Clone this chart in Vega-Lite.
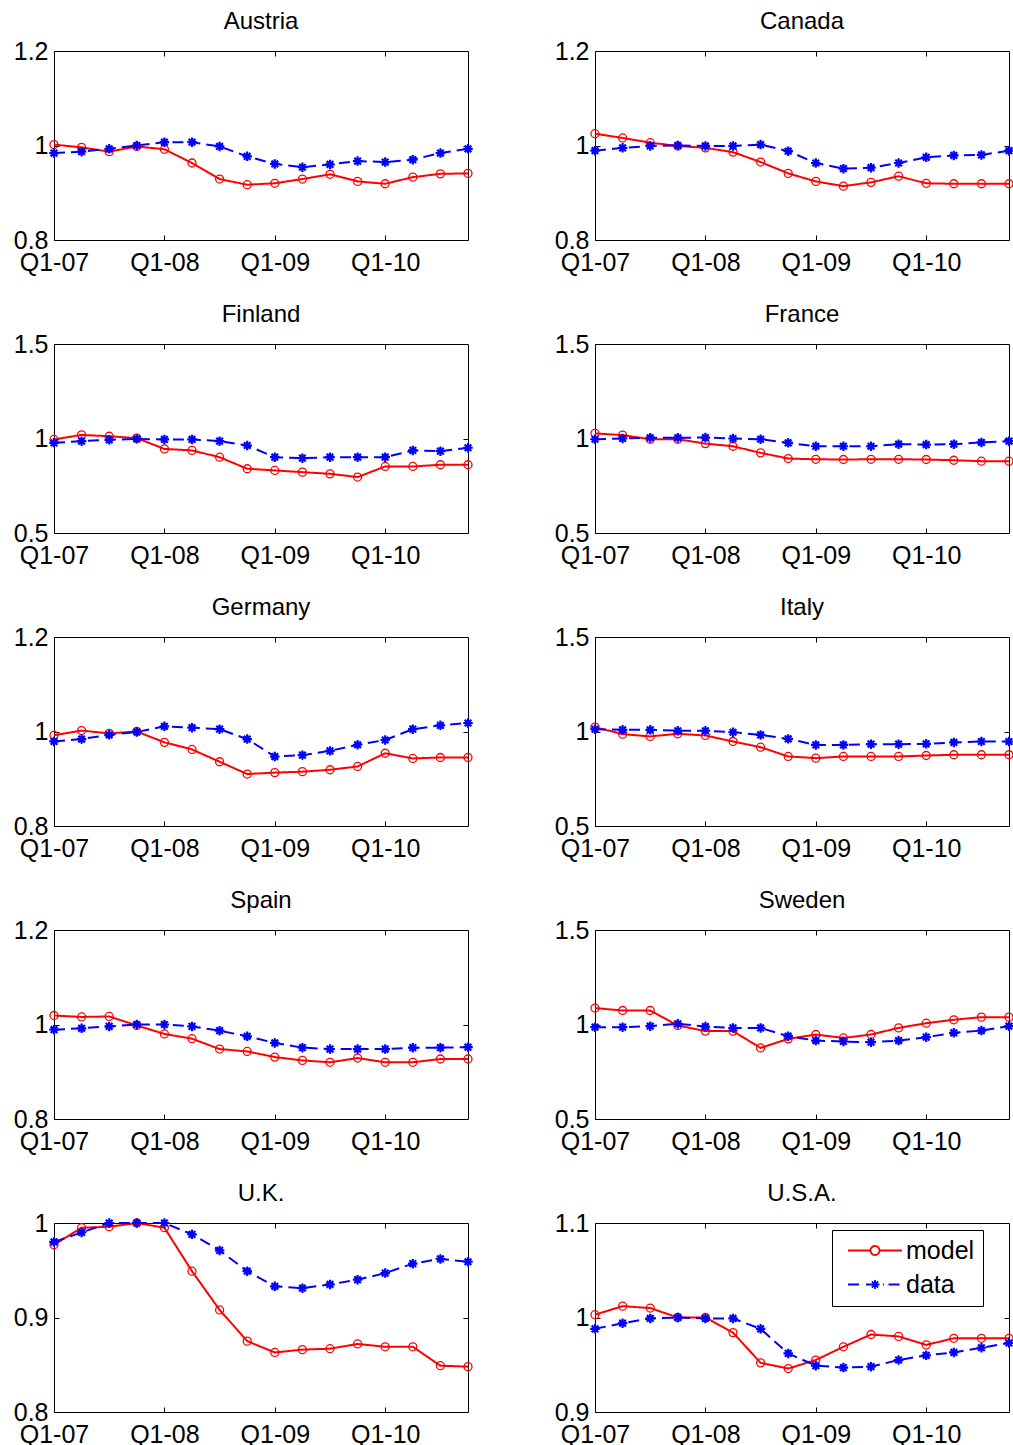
{
"$schema":"https://vega.github.io/schema/vega-lite/v6.json",
"background":"white",
"padding":{"left":12,"top":9,"right":0,"bottom":0},
"datasets":{"d":[
{"c":"Austria","s":"model","q":"Q1-07","v":1.002},{"c":"Austria","s":"model","q":"Q2-07","v":0.996},{"c":"Austria","s":"model","q":"Q3-07","v":0.987},{"c":"Austria","s":"model","q":"Q4-07","v":0.998},{"c":"Austria","s":"model","q":"Q1-08","v":0.992},{"c":"Austria","s":"model","q":"Q2-08","v":0.963},{"c":"Austria","s":"model","q":"Q3-08","v":0.929},{"c":"Austria","s":"model","q":"Q4-08","v":0.917},{"c":"Austria","s":"model","q":"Q1-09","v":0.920},{"c":"Austria","s":"model","q":"Q2-09","v":0.929},{"c":"Austria","s":"model","q":"Q3-09","v":0.939},{"c":"Austria","s":"model","q":"Q4-09","v":0.924},{"c":"Austria","s":"model","q":"Q1-10","v":0.919},{"c":"Austria","s":"model","q":"Q2-10","v":0.933},{"c":"Austria","s":"model","q":"Q3-10","v":0.940},{"c":"Austria","s":"model","q":"Q4-10","v":0.941},
{"c":"Austria","s":"data","q":"Q1-07","v":0.984},{"c":"Austria","s":"data","q":"Q2-07","v":0.987},{"c":"Austria","s":"data","q":"Q3-07","v":0.993},{"c":"Austria","s":"data","q":"Q4-07","v":1.000},{"c":"Austria","s":"data","q":"Q1-08","v":1.007},{"c":"Austria","s":"data","q":"Q2-08","v":1.007},{"c":"Austria","s":"data","q":"Q3-08","v":0.998},{"c":"Austria","s":"data","q":"Q4-08","v":0.977},{"c":"Austria","s":"data","q":"Q1-09","v":0.961},{"c":"Austria","s":"data","q":"Q2-09","v":0.954},{"c":"Austria","s":"data","q":"Q3-09","v":0.960},{"c":"Austria","s":"data","q":"Q4-09","v":0.967},{"c":"Austria","s":"data","q":"Q1-10","v":0.965},{"c":"Austria","s":"data","q":"Q2-10","v":0.970},{"c":"Austria","s":"data","q":"Q3-10","v":0.984},{"c":"Austria","s":"data","q":"Q4-10","v":0.993},
{"c":"Canada","s":"model","q":"Q1-07","v":1.025},{"c":"Canada","s":"model","q":"Q2-07","v":1.016},{"c":"Canada","s":"model","q":"Q3-07","v":1.006},{"c":"Canada","s":"model","q":"Q4-07","v":0.999},{"c":"Canada","s":"model","q":"Q1-08","v":0.995},{"c":"Canada","s":"model","q":"Q2-08","v":0.986},{"c":"Canada","s":"model","q":"Q3-08","v":0.965},{"c":"Canada","s":"model","q":"Q4-08","v":0.941},{"c":"Canada","s":"model","q":"Q1-09","v":0.924},{"c":"Canada","s":"model","q":"Q2-09","v":0.914},{"c":"Canada","s":"model","q":"Q3-09","v":0.922},{"c":"Canada","s":"model","q":"Q4-09","v":0.935},{"c":"Canada","s":"model","q":"Q1-10","v":0.920},{"c":"Canada","s":"model","q":"Q2-10","v":0.919},{"c":"Canada","s":"model","q":"Q3-10","v":0.919},{"c":"Canada","s":"model","q":"Q4-10","v":0.919},
{"c":"Canada","s":"data","q":"Q1-07","v":0.989},{"c":"Canada","s":"data","q":"Q2-07","v":0.995},{"c":"Canada","s":"data","q":"Q3-07","v":0.999},{"c":"Canada","s":"data","q":"Q4-07","v":1.000},{"c":"Canada","s":"data","q":"Q1-08","v":0.999},{"c":"Canada","s":"data","q":"Q2-08","v":0.999},{"c":"Canada","s":"data","q":"Q3-08","v":1.002},{"c":"Canada","s":"data","q":"Q4-08","v":0.988},{"c":"Canada","s":"data","q":"Q1-09","v":0.963},{"c":"Canada","s":"data","q":"Q2-09","v":0.951},{"c":"Canada","s":"data","q":"Q3-09","v":0.953},{"c":"Canada","s":"data","q":"Q4-09","v":0.963},{"c":"Canada","s":"data","q":"Q1-10","v":0.975},{"c":"Canada","s":"data","q":"Q2-10","v":0.979},{"c":"Canada","s":"data","q":"Q3-10","v":0.980},{"c":"Canada","s":"data","q":"Q4-10","v":0.989},
{"c":"Finland","s":"model","q":"Q1-07","v":0.995},{"c":"Finland","s":"model","q":"Q2-07","v":1.019},{"c":"Finland","s":"model","q":"Q3-07","v":1.012},{"c":"Finland","s":"model","q":"Q4-07","v":1.002},{"c":"Finland","s":"model","q":"Q1-08","v":0.945},{"c":"Finland","s":"model","q":"Q2-08","v":0.937},{"c":"Finland","s":"model","q":"Q3-08","v":0.901},{"c":"Finland","s":"model","q":"Q4-08","v":0.840},{"c":"Finland","s":"model","q":"Q1-09","v":0.831},{"c":"Finland","s":"model","q":"Q2-09","v":0.822},{"c":"Finland","s":"model","q":"Q3-09","v":0.813},{"c":"Finland","s":"model","q":"Q4-09","v":0.796},{"c":"Finland","s":"model","q":"Q1-10","v":0.852},{"c":"Finland","s":"model","q":"Q2-10","v":0.852},{"c":"Finland","s":"model","q":"Q3-10","v":0.861},{"c":"Finland","s":"model","q":"Q4-10","v":0.861},
{"c":"Finland","s":"data","q":"Q1-07","v":0.977},{"c":"Finland","s":"data","q":"Q2-07","v":0.986},{"c":"Finland","s":"data","q":"Q3-07","v":0.993},{"c":"Finland","s":"data","q":"Q4-07","v":0.998},{"c":"Finland","s":"data","q":"Q1-08","v":0.995},{"c":"Finland","s":"data","q":"Q2-08","v":0.995},{"c":"Finland","s":"data","q":"Q3-08","v":0.986},{"c":"Finland","s":"data","q":"Q4-08","v":0.963},{"c":"Finland","s":"data","q":"Q1-09","v":0.901},{"c":"Finland","s":"data","q":"Q2-09","v":0.896},{"c":"Finland","s":"data","q":"Q3-09","v":0.901},{"c":"Finland","s":"data","q":"Q4-09","v":0.901},{"c":"Finland","s":"data","q":"Q1-10","v":0.901},{"c":"Finland","s":"data","q":"Q2-10","v":0.937},{"c":"Finland","s":"data","q":"Q3-10","v":0.933},{"c":"Finland","s":"data","q":"Q4-10","v":0.951},
{"c":"France","s":"model","q":"Q1-07","v":1.027},{"c":"France","s":"model","q":"Q2-07","v":1.018},{"c":"France","s":"model","q":"Q3-07","v":0.996},{"c":"France","s":"model","q":"Q4-07","v":0.996},{"c":"France","s":"model","q":"Q1-08","v":0.973},{"c":"France","s":"model","q":"Q2-08","v":0.959},{"c":"France","s":"model","q":"Q3-08","v":0.924},{"c":"France","s":"model","q":"Q4-08","v":0.894},{"c":"France","s":"model","q":"Q1-09","v":0.890},{"c":"France","s":"model","q":"Q2-09","v":0.889},{"c":"France","s":"model","q":"Q3-09","v":0.890},{"c":"France","s":"model","q":"Q4-09","v":0.890},{"c":"France","s":"model","q":"Q1-10","v":0.889},{"c":"France","s":"model","q":"Q2-10","v":0.885},{"c":"France","s":"model","q":"Q3-10","v":0.880},{"c":"France","s":"model","q":"Q4-10","v":0.880},
{"c":"France","s":"data","q":"Q1-07","v":0.996},{"c":"France","s":"data","q":"Q2-07","v":1.000},{"c":"France","s":"data","q":"Q3-07","v":1.004},{"c":"France","s":"data","q":"Q4-07","v":1.004},{"c":"France","s":"data","q":"Q1-08","v":1.005},{"c":"France","s":"data","q":"Q2-08","v":1.000},{"c":"France","s":"data","q":"Q3-08","v":0.996},{"c":"France","s":"data","q":"Q4-08","v":0.977},{"c":"France","s":"data","q":"Q1-09","v":0.959},{"c":"France","s":"data","q":"Q2-09","v":0.959},{"c":"France","s":"data","q":"Q3-09","v":0.959},{"c":"France","s":"data","q":"Q4-09","v":0.970},{"c":"France","s":"data","q":"Q1-10","v":0.968},{"c":"France","s":"data","q":"Q2-10","v":0.970},{"c":"France","s":"data","q":"Q3-10","v":0.979},{"c":"France","s":"data","q":"Q4-10","v":0.986},
{"c":"Germany","s":"model","q":"Q1-07","v":0.992},{"c":"Germany","s":"model","q":"Q2-07","v":1.002},{"c":"Germany","s":"model","q":"Q3-07","v":0.996},{"c":"Germany","s":"model","q":"Q4-07","v":1.000},{"c":"Germany","s":"model","q":"Q1-08","v":0.977},{"c":"Germany","s":"model","q":"Q2-08","v":0.962},{"c":"Germany","s":"model","q":"Q3-08","v":0.936},{"c":"Germany","s":"model","q":"Q4-08","v":0.910},{"c":"Germany","s":"model","q":"Q1-09","v":0.913},{"c":"Germany","s":"model","q":"Q2-09","v":0.915},{"c":"Germany","s":"model","q":"Q3-09","v":0.919},{"c":"Germany","s":"model","q":"Q4-09","v":0.926},{"c":"Germany","s":"model","q":"Q1-10","v":0.954},{"c":"Germany","s":"model","q":"Q2-10","v":0.943},{"c":"Germany","s":"model","q":"Q3-10","v":0.945},{"c":"Germany","s":"model","q":"Q4-10","v":0.945},
{"c":"Germany","s":"data","q":"Q1-07","v":0.979},{"c":"Germany","s":"data","q":"Q2-07","v":0.984},{"c":"Germany","s":"data","q":"Q3-07","v":0.993},{"c":"Germany","s":"data","q":"Q4-07","v":0.999},{"c":"Germany","s":"data","q":"Q1-08","v":1.011},{"c":"Germany","s":"data","q":"Q2-08","v":1.008},{"c":"Germany","s":"data","q":"Q3-08","v":1.005},{"c":"Germany","s":"data","q":"Q4-08","v":0.984},{"c":"Germany","s":"data","q":"Q1-09","v":0.947},{"c":"Germany","s":"data","q":"Q2-09","v":0.950},{"c":"Germany","s":"data","q":"Q3-09","v":0.959},{"c":"Germany","s":"data","q":"Q4-09","v":0.972},{"c":"Germany","s":"data","q":"Q1-10","v":0.982},{"c":"Germany","s":"data","q":"Q2-10","v":1.005},{"c":"Germany","s":"data","q":"Q3-10","v":1.013},{"c":"Germany","s":"data","q":"Q4-10","v":1.018},
{"c":"Italy","s":"model","q":"Q1-07","v":1.023},{"c":"Italy","s":"model","q":"Q2-07","v":0.986},{"c":"Italy","s":"model","q":"Q3-07","v":0.974},{"c":"Italy","s":"model","q":"Q4-07","v":0.988},{"c":"Italy","s":"model","q":"Q1-08","v":0.979},{"c":"Italy","s":"model","q":"Q2-08","v":0.947},{"c":"Italy","s":"model","q":"Q3-08","v":0.917},{"c":"Italy","s":"model","q":"Q4-08","v":0.868},{"c":"Italy","s":"model","q":"Q1-09","v":0.859},{"c":"Italy","s":"model","q":"Q2-09","v":0.868},{"c":"Italy","s":"model","q":"Q3-09","v":0.868},{"c":"Italy","s":"model","q":"Q4-09","v":0.868},{"c":"Italy","s":"model","q":"Q1-10","v":0.873},{"c":"Italy","s":"model","q":"Q2-10","v":0.877},{"c":"Italy","s":"model","q":"Q3-10","v":0.877},{"c":"Italy","s":"model","q":"Q4-10","v":0.877},
{"c":"Italy","s":"data","q":"Q1-07","v":1.012},{"c":"Italy","s":"data","q":"Q2-07","v":1.009},{"c":"Italy","s":"data","q":"Q3-07","v":1.009},{"c":"Italy","s":"data","q":"Q4-07","v":1.004},{"c":"Italy","s":"data","q":"Q1-08","v":1.004},{"c":"Italy","s":"data","q":"Q2-08","v":0.996},{"c":"Italy","s":"data","q":"Q3-08","v":0.982},{"c":"Italy","s":"data","q":"Q4-08","v":0.961},{"c":"Italy","s":"data","q":"Q1-09","v":0.929},{"c":"Italy","s":"data","q":"Q2-09","v":0.929},{"c":"Italy","s":"data","q":"Q3-09","v":0.933},{"c":"Italy","s":"data","q":"Q4-09","v":0.933},{"c":"Italy","s":"data","q":"Q1-10","v":0.935},{"c":"Italy","s":"data","q":"Q2-10","v":0.942},{"c":"Italy","s":"data","q":"Q3-10","v":0.947},{"c":"Italy","s":"data","q":"Q4-10","v":0.947},
{"c":"Spain","s":"model","q":"Q1-07","v":1.019},{"c":"Spain","s":"model","q":"Q2-07","v":1.016},{"c":"Spain","s":"model","q":"Q3-07","v":1.017},{"c":"Spain","s":"model","q":"Q4-07","v":0.998},{"c":"Spain","s":"model","q":"Q1-08","v":0.980},{"c":"Spain","s":"model","q":"Q2-08","v":0.970},{"c":"Spain","s":"model","q":"Q3-08","v":0.948},{"c":"Spain","s":"model","q":"Q4-08","v":0.943},{"c":"Spain","s":"model","q":"Q1-09","v":0.931},{"c":"Spain","s":"model","q":"Q2-09","v":0.924},{"c":"Spain","s":"model","q":"Q3-09","v":0.920},{"c":"Spain","s":"model","q":"Q4-09","v":0.929},{"c":"Spain","s":"model","q":"Q1-10","v":0.920},{"c":"Spain","s":"model","q":"Q2-10","v":0.920},{"c":"Spain","s":"model","q":"Q3-10","v":0.927},{"c":"Spain","s":"model","q":"Q4-10","v":0.927},
{"c":"Spain","s":"data","q":"Q1-07","v":0.989},{"c":"Spain","s":"data","q":"Q2-07","v":0.992},{"c":"Spain","s":"data","q":"Q3-07","v":0.996},{"c":"Spain","s":"data","q":"Q4-07","v":1.000},{"c":"Spain","s":"data","q":"Q1-08","v":1.000},{"c":"Spain","s":"data","q":"Q2-08","v":0.996},{"c":"Spain","s":"data","q":"Q3-08","v":0.987},{"c":"Spain","s":"data","q":"Q4-08","v":0.975},{"c":"Spain","s":"data","q":"Q1-09","v":0.961},{"c":"Spain","s":"data","q":"Q2-09","v":0.951},{"c":"Spain","s":"data","q":"Q3-09","v":0.948},{"c":"Spain","s":"data","q":"Q4-09","v":0.948},{"c":"Spain","s":"data","q":"Q1-10","v":0.948},{"c":"Spain","s":"data","q":"Q2-10","v":0.951},{"c":"Spain","s":"data","q":"Q3-10","v":0.951},{"c":"Spain","s":"data","q":"Q4-10","v":0.952},
{"c":"Sweden","s":"model","q":"Q1-07","v":1.087},{"c":"Sweden","s":"model","q":"Q2-07","v":1.074},{"c":"Sweden","s":"model","q":"Q3-07","v":1.074},{"c":"Sweden","s":"model","q":"Q4-07","v":0.995},{"c":"Sweden","s":"model","q":"Q1-08","v":0.965},{"c":"Sweden","s":"model","q":"Q2-08","v":0.965},{"c":"Sweden","s":"model","q":"Q3-08","v":0.876},{"c":"Sweden","s":"model","q":"Q4-08","v":0.924},{"c":"Sweden","s":"model","q":"Q1-09","v":0.947},{"c":"Sweden","s":"model","q":"Q2-09","v":0.929},{"c":"Sweden","s":"model","q":"Q3-09","v":0.947},{"c":"Sweden","s":"model","q":"Q4-09","v":0.982},{"c":"Sweden","s":"model","q":"Q1-10","v":1.007},{"c":"Sweden","s":"model","q":"Q2-10","v":1.025},{"c":"Sweden","s":"model","q":"Q3-10","v":1.039},{"c":"Sweden","s":"model","q":"Q4-10","v":1.039},
{"c":"Sweden","s":"data","q":"Q1-07","v":0.986},{"c":"Sweden","s":"data","q":"Q2-07","v":0.986},{"c":"Sweden","s":"data","q":"Q3-07","v":0.991},{"c":"Sweden","s":"data","q":"Q4-07","v":1.004},{"c":"Sweden","s":"data","q":"Q1-08","v":0.989},{"c":"Sweden","s":"data","q":"Q2-08","v":0.982},{"c":"Sweden","s":"data","q":"Q3-08","v":0.982},{"c":"Sweden","s":"data","q":"Q4-08","v":0.938},{"c":"Sweden","s":"data","q":"Q1-09","v":0.915},{"c":"Sweden","s":"data","q":"Q2-09","v":0.910},{"c":"Sweden","s":"data","q":"Q3-09","v":0.906},{"c":"Sweden","s":"data","q":"Q4-09","v":0.915},{"c":"Sweden","s":"data","q":"Q1-10","v":0.933},{"c":"Sweden","s":"data","q":"Q2-10","v":0.956},{"c":"Sweden","s":"data","q":"Q3-10","v":0.968},{"c":"Sweden","s":"data","q":"Q4-10","v":0.991},
{"c":"U.K.","s":"model","q":"Q1-07","v":0.977},{"c":"U.K.","s":"model","q":"Q2-07","v":0.995},{"c":"U.K.","s":"model","q":"Q3-07","v":0.996},{"c":"U.K.","s":"model","q":"Q4-07","v":1.000},{"c":"U.K.","s":"model","q":"Q1-08","v":0.995},{"c":"U.K.","s":"model","q":"Q2-08","v":0.949},{"c":"U.K.","s":"model","q":"Q3-08","v":0.908},{"c":"U.K.","s":"model","q":"Q4-08","v":0.875},{"c":"U.K.","s":"model","q":"Q1-09","v":0.863},{"c":"U.K.","s":"model","q":"Q2-09","v":0.866},{"c":"U.K.","s":"model","q":"Q3-09","v":0.867},{"c":"U.K.","s":"model","q":"Q4-09","v":0.872},{"c":"U.K.","s":"model","q":"Q1-10","v":0.869},{"c":"U.K.","s":"model","q":"Q2-10","v":0.869},{"c":"U.K.","s":"model","q":"Q3-10","v":0.849},{"c":"U.K.","s":"model","q":"Q4-10","v":0.848},
{"c":"U.K.","s":"data","q":"Q1-07","v":0.980},{"c":"U.K.","s":"data","q":"Q2-07","v":0.990},{"c":"U.K.","s":"data","q":"Q3-07","v":1.000},{"c":"U.K.","s":"data","q":"Q4-07","v":1.000},{"c":"U.K.","s":"data","q":"Q1-08","v":1.000},{"c":"U.K.","s":"data","q":"Q2-08","v":0.988},{"c":"U.K.","s":"data","q":"Q3-08","v":0.971},{"c":"U.K.","s":"data","q":"Q4-08","v":0.949},{"c":"U.K.","s":"data","q":"Q1-09","v":0.933},{"c":"U.K.","s":"data","q":"Q2-09","v":0.931},{"c":"U.K.","s":"data","q":"Q3-09","v":0.935},{"c":"U.K.","s":"data","q":"Q4-09","v":0.940},{"c":"U.K.","s":"data","q":"Q1-10","v":0.947},{"c":"U.K.","s":"data","q":"Q2-10","v":0.957},{"c":"U.K.","s":"data","q":"Q3-10","v":0.962},{"c":"U.K.","s":"data","q":"Q4-10","v":0.959},
{"c":"U.S.A.","s":"model","q":"Q1-07","v":1.003},{"c":"U.S.A.","s":"model","q":"Q2-07","v":1.012},{"c":"U.S.A.","s":"model","q":"Q3-07","v":1.010},{"c":"U.S.A.","s":"model","q":"Q4-07","v":1.000},{"c":"U.S.A.","s":"model","q":"Q1-08","v":1.000},{"c":"U.S.A.","s":"model","q":"Q2-08","v":0.984},{"c":"U.S.A.","s":"model","q":"Q3-08","v":0.952},{"c":"U.S.A.","s":"model","q":"Q4-08","v":0.946},{"c":"U.S.A.","s":"model","q":"Q1-09","v":0.955},{"c":"U.S.A.","s":"model","q":"Q2-09","v":0.969},{"c":"U.S.A.","s":"model","q":"Q3-09","v":0.982},{"c":"U.S.A.","s":"model","q":"Q4-09","v":0.980},{"c":"U.S.A.","s":"model","q":"Q1-10","v":0.971},{"c":"U.S.A.","s":"model","q":"Q2-10","v":0.978},{"c":"U.S.A.","s":"model","q":"Q3-10","v":0.978},{"c":"U.S.A.","s":"model","q":"Q4-10","v":0.978},
{"c":"U.S.A.","s":"data","q":"Q1-07","v":0.988},{"c":"U.S.A.","s":"data","q":"Q2-07","v":0.994},{"c":"U.S.A.","s":"data","q":"Q3-07","v":0.999},{"c":"U.S.A.","s":"data","q":"Q4-07","v":1.000},{"c":"U.S.A.","s":"data","q":"Q1-08","v":0.999},{"c":"U.S.A.","s":"data","q":"Q2-08","v":0.999},{"c":"U.S.A.","s":"data","q":"Q3-08","v":0.988},{"c":"U.S.A.","s":"data","q":"Q4-08","v":0.962},{"c":"U.S.A.","s":"data","q":"Q1-09","v":0.949},{"c":"U.S.A.","s":"data","q":"Q2-09","v":0.947},{"c":"U.S.A.","s":"data","q":"Q3-09","v":0.948},{"c":"U.S.A.","s":"data","q":"Q4-09","v":0.955},{"c":"U.S.A.","s":"data","q":"Q1-10","v":0.960},{"c":"U.S.A.","s":"data","q":"Q2-10","v":0.963},{"c":"U.S.A.","s":"data","q":"Q3-10","v":0.968},{"c":"U.S.A.","s":"data","q":"Q4-10","v":0.973}
]},
"columns":2,
"spacing":{"row":26,"column":75},
"resolve":{"scale":{"color":"independent","strokeDash":"independent"},"legend":{"color":"independent","strokeDash":"independent"}},
"concat":[
{"title":"Austria","width":414,"height":189,"data":{"name":"d"},"transform":[{"filter":"datum.c==='Austria'"}],"resolve":{"axis":{"x":"independent","y":"independent"}},
"layer":[{"encoding":{"x":{"field":"q","type":"ordinal","title":null,"scale":{"type":"point","padding":0,"domain":["Q1-07","Q2-07","Q3-07","Q4-07","Q1-08","Q2-08","Q3-08","Q4-08","Q1-09","Q2-09","Q3-09","Q4-09","Q1-10","Q2-10","Q3-10","Q4-10"]},"axis":{"values":["Q1-07","Q1-08","Q1-09","Q1-10"],"labelAngle":0}},
"y":{"field":"v","type":"quantitative","title":null,"scale":{"domain":[0.8,1.2],"zero":false,"nice":false},"axis":{"values":[0.8,1,1.2],"format":"~g"}},
"color":{"field":"s","type":"nominal","scale":{"domain":["model","data"],"range":["#ff0000","#0000ff"]},"legend":null}},
"layer":[
{"mark":{"type":"line","strokeWidth":2},"encoding":{"order":{"value":null},"strokeDash":{"field":"s","type":"nominal","scale":{"domain":["model","data"],"range":[[1,0],[11,6]]},"legend":null}}},
{"transform":[{"filter":"datum.s==='model'"}],"mark":{"type":"point","shape":"circle","filled":false,"size":64,"strokeWidth":1.3,"opacity":1}},
{"transform":[{"filter":"datum.s==='data'"}],"mark":{"type":"point","shape":"M-1,0L1,0M0,-1L0,1M-0.7,-0.7L0.7,0.7M-0.7,0.7L0.7,-0.7","filled":false,"size":90,"strokeWidth":2.2,"opacity":1}}]},
{"mark":{"type":"point","opacity":0},"encoding":{"x":{"field":"q","type":"ordinal","title":null,"scale":{"type":"point","padding":0,"domain":["Q1-07","Q2-07","Q3-07","Q4-07","Q1-08","Q2-08","Q3-08","Q4-08","Q1-09","Q2-09","Q3-09","Q4-09","Q1-10","Q2-10","Q3-10","Q4-10"]},"axis":{"orient":"top","values":["Q1-08","Q1-09","Q1-10"],"labels":false}},
"y":{"field":"v","type":"quantitative","title":null,"scale":{"domain":[0.8,1.2],"zero":false,"nice":false},"axis":{"orient":"right","values":[1],"labels":false}}}}]},
{"title":"Canada","width":414,"height":189,"data":{"name":"d"},"transform":[{"filter":"datum.c==='Canada'"}],"resolve":{"axis":{"x":"independent","y":"independent"}},
"layer":[{"encoding":{"x":{"field":"q","type":"ordinal","title":null,"scale":{"type":"point","padding":0,"domain":["Q1-07","Q2-07","Q3-07","Q4-07","Q1-08","Q2-08","Q3-08","Q4-08","Q1-09","Q2-09","Q3-09","Q4-09","Q1-10","Q2-10","Q3-10","Q4-10"]},"axis":{"values":["Q1-07","Q1-08","Q1-09","Q1-10"],"labelAngle":0}},
"y":{"field":"v","type":"quantitative","title":null,"scale":{"domain":[0.8,1.2],"zero":false,"nice":false},"axis":{"values":[0.8,1,1.2],"format":"~g"}},
"color":{"field":"s","type":"nominal","scale":{"domain":["model","data"],"range":["#ff0000","#0000ff"]},"legend":null}},
"layer":[
{"mark":{"type":"line","strokeWidth":2},"encoding":{"order":{"value":null},"strokeDash":{"field":"s","type":"nominal","scale":{"domain":["model","data"],"range":[[1,0],[11,6]]},"legend":null}}},
{"transform":[{"filter":"datum.s==='model'"}],"mark":{"type":"point","shape":"circle","filled":false,"size":64,"strokeWidth":1.3,"opacity":1}},
{"transform":[{"filter":"datum.s==='data'"}],"mark":{"type":"point","shape":"M-1,0L1,0M0,-1L0,1M-0.7,-0.7L0.7,0.7M-0.7,0.7L0.7,-0.7","filled":false,"size":90,"strokeWidth":2.2,"opacity":1}}]},
{"mark":{"type":"point","opacity":0},"encoding":{"x":{"field":"q","type":"ordinal","title":null,"scale":{"type":"point","padding":0,"domain":["Q1-07","Q2-07","Q3-07","Q4-07","Q1-08","Q2-08","Q3-08","Q4-08","Q1-09","Q2-09","Q3-09","Q4-09","Q1-10","Q2-10","Q3-10","Q4-10"]},"axis":{"orient":"top","values":["Q1-08","Q1-09","Q1-10"],"labels":false}},
"y":{"field":"v","type":"quantitative","title":null,"scale":{"domain":[0.8,1.2],"zero":false,"nice":false},"axis":{"orient":"right","values":[1],"labels":false}}}}]},
{"title":"Finland","width":414,"height":189,"data":{"name":"d"},"transform":[{"filter":"datum.c==='Finland'"}],"resolve":{"axis":{"x":"independent","y":"independent"}},
"layer":[{"encoding":{"x":{"field":"q","type":"ordinal","title":null,"scale":{"type":"point","padding":0,"domain":["Q1-07","Q2-07","Q3-07","Q4-07","Q1-08","Q2-08","Q3-08","Q4-08","Q1-09","Q2-09","Q3-09","Q4-09","Q1-10","Q2-10","Q3-10","Q4-10"]},"axis":{"values":["Q1-07","Q1-08","Q1-09","Q1-10"],"labelAngle":0}},
"y":{"field":"v","type":"quantitative","title":null,"scale":{"domain":[0.5,1.5],"zero":false,"nice":false},"axis":{"values":[0.5,1,1.5],"format":"~g"}},
"color":{"field":"s","type":"nominal","scale":{"domain":["model","data"],"range":["#ff0000","#0000ff"]},"legend":null}},
"layer":[
{"mark":{"type":"line","strokeWidth":2},"encoding":{"order":{"value":null},"strokeDash":{"field":"s","type":"nominal","scale":{"domain":["model","data"],"range":[[1,0],[11,6]]},"legend":null}}},
{"transform":[{"filter":"datum.s==='model'"}],"mark":{"type":"point","shape":"circle","filled":false,"size":64,"strokeWidth":1.3,"opacity":1}},
{"transform":[{"filter":"datum.s==='data'"}],"mark":{"type":"point","shape":"M-1,0L1,0M0,-1L0,1M-0.7,-0.7L0.7,0.7M-0.7,0.7L0.7,-0.7","filled":false,"size":90,"strokeWidth":2.2,"opacity":1}}]},
{"mark":{"type":"point","opacity":0},"encoding":{"x":{"field":"q","type":"ordinal","title":null,"scale":{"type":"point","padding":0,"domain":["Q1-07","Q2-07","Q3-07","Q4-07","Q1-08","Q2-08","Q3-08","Q4-08","Q1-09","Q2-09","Q3-09","Q4-09","Q1-10","Q2-10","Q3-10","Q4-10"]},"axis":{"orient":"top","values":["Q1-08","Q1-09","Q1-10"],"labels":false}},
"y":{"field":"v","type":"quantitative","title":null,"scale":{"domain":[0.5,1.5],"zero":false,"nice":false},"axis":{"orient":"right","values":[1],"labels":false}}}}]},
{"title":"France","width":414,"height":189,"data":{"name":"d"},"transform":[{"filter":"datum.c==='France'"}],"resolve":{"axis":{"x":"independent","y":"independent"}},
"layer":[{"encoding":{"x":{"field":"q","type":"ordinal","title":null,"scale":{"type":"point","padding":0,"domain":["Q1-07","Q2-07","Q3-07","Q4-07","Q1-08","Q2-08","Q3-08","Q4-08","Q1-09","Q2-09","Q3-09","Q4-09","Q1-10","Q2-10","Q3-10","Q4-10"]},"axis":{"values":["Q1-07","Q1-08","Q1-09","Q1-10"],"labelAngle":0}},
"y":{"field":"v","type":"quantitative","title":null,"scale":{"domain":[0.5,1.5],"zero":false,"nice":false},"axis":{"values":[0.5,1,1.5],"format":"~g"}},
"color":{"field":"s","type":"nominal","scale":{"domain":["model","data"],"range":["#ff0000","#0000ff"]},"legend":null}},
"layer":[
{"mark":{"type":"line","strokeWidth":2},"encoding":{"order":{"value":null},"strokeDash":{"field":"s","type":"nominal","scale":{"domain":["model","data"],"range":[[1,0],[11,6]]},"legend":null}}},
{"transform":[{"filter":"datum.s==='model'"}],"mark":{"type":"point","shape":"circle","filled":false,"size":64,"strokeWidth":1.3,"opacity":1}},
{"transform":[{"filter":"datum.s==='data'"}],"mark":{"type":"point","shape":"M-1,0L1,0M0,-1L0,1M-0.7,-0.7L0.7,0.7M-0.7,0.7L0.7,-0.7","filled":false,"size":90,"strokeWidth":2.2,"opacity":1}}]},
{"mark":{"type":"point","opacity":0},"encoding":{"x":{"field":"q","type":"ordinal","title":null,"scale":{"type":"point","padding":0,"domain":["Q1-07","Q2-07","Q3-07","Q4-07","Q1-08","Q2-08","Q3-08","Q4-08","Q1-09","Q2-09","Q3-09","Q4-09","Q1-10","Q2-10","Q3-10","Q4-10"]},"axis":{"orient":"top","values":["Q1-08","Q1-09","Q1-10"],"labels":false}},
"y":{"field":"v","type":"quantitative","title":null,"scale":{"domain":[0.5,1.5],"zero":false,"nice":false},"axis":{"orient":"right","values":[1],"labels":false}}}}]},
{"title":"Germany","width":414,"height":189,"data":{"name":"d"},"transform":[{"filter":"datum.c==='Germany'"}],"resolve":{"axis":{"x":"independent","y":"independent"}},
"layer":[{"encoding":{"x":{"field":"q","type":"ordinal","title":null,"scale":{"type":"point","padding":0,"domain":["Q1-07","Q2-07","Q3-07","Q4-07","Q1-08","Q2-08","Q3-08","Q4-08","Q1-09","Q2-09","Q3-09","Q4-09","Q1-10","Q2-10","Q3-10","Q4-10"]},"axis":{"values":["Q1-07","Q1-08","Q1-09","Q1-10"],"labelAngle":0}},
"y":{"field":"v","type":"quantitative","title":null,"scale":{"domain":[0.8,1.2],"zero":false,"nice":false},"axis":{"values":[0.8,1,1.2],"format":"~g"}},
"color":{"field":"s","type":"nominal","scale":{"domain":["model","data"],"range":["#ff0000","#0000ff"]},"legend":null}},
"layer":[
{"mark":{"type":"line","strokeWidth":2},"encoding":{"order":{"value":null},"strokeDash":{"field":"s","type":"nominal","scale":{"domain":["model","data"],"range":[[1,0],[11,6]]},"legend":null}}},
{"transform":[{"filter":"datum.s==='model'"}],"mark":{"type":"point","shape":"circle","filled":false,"size":64,"strokeWidth":1.3,"opacity":1}},
{"transform":[{"filter":"datum.s==='data'"}],"mark":{"type":"point","shape":"M-1,0L1,0M0,-1L0,1M-0.7,-0.7L0.7,0.7M-0.7,0.7L0.7,-0.7","filled":false,"size":90,"strokeWidth":2.2,"opacity":1}}]},
{"mark":{"type":"point","opacity":0},"encoding":{"x":{"field":"q","type":"ordinal","title":null,"scale":{"type":"point","padding":0,"domain":["Q1-07","Q2-07","Q3-07","Q4-07","Q1-08","Q2-08","Q3-08","Q4-08","Q1-09","Q2-09","Q3-09","Q4-09","Q1-10","Q2-10","Q3-10","Q4-10"]},"axis":{"orient":"top","values":["Q1-08","Q1-09","Q1-10"],"labels":false}},
"y":{"field":"v","type":"quantitative","title":null,"scale":{"domain":[0.8,1.2],"zero":false,"nice":false},"axis":{"orient":"right","values":[1],"labels":false}}}}]},
{"title":"Italy","width":414,"height":189,"data":{"name":"d"},"transform":[{"filter":"datum.c==='Italy'"}],"resolve":{"axis":{"x":"independent","y":"independent"}},
"layer":[{"encoding":{"x":{"field":"q","type":"ordinal","title":null,"scale":{"type":"point","padding":0,"domain":["Q1-07","Q2-07","Q3-07","Q4-07","Q1-08","Q2-08","Q3-08","Q4-08","Q1-09","Q2-09","Q3-09","Q4-09","Q1-10","Q2-10","Q3-10","Q4-10"]},"axis":{"values":["Q1-07","Q1-08","Q1-09","Q1-10"],"labelAngle":0}},
"y":{"field":"v","type":"quantitative","title":null,"scale":{"domain":[0.5,1.5],"zero":false,"nice":false},"axis":{"values":[0.5,1,1.5],"format":"~g"}},
"color":{"field":"s","type":"nominal","scale":{"domain":["model","data"],"range":["#ff0000","#0000ff"]},"legend":null}},
"layer":[
{"mark":{"type":"line","strokeWidth":2},"encoding":{"order":{"value":null},"strokeDash":{"field":"s","type":"nominal","scale":{"domain":["model","data"],"range":[[1,0],[11,6]]},"legend":null}}},
{"transform":[{"filter":"datum.s==='model'"}],"mark":{"type":"point","shape":"circle","filled":false,"size":64,"strokeWidth":1.3,"opacity":1}},
{"transform":[{"filter":"datum.s==='data'"}],"mark":{"type":"point","shape":"M-1,0L1,0M0,-1L0,1M-0.7,-0.7L0.7,0.7M-0.7,0.7L0.7,-0.7","filled":false,"size":90,"strokeWidth":2.2,"opacity":1}}]},
{"mark":{"type":"point","opacity":0},"encoding":{"x":{"field":"q","type":"ordinal","title":null,"scale":{"type":"point","padding":0,"domain":["Q1-07","Q2-07","Q3-07","Q4-07","Q1-08","Q2-08","Q3-08","Q4-08","Q1-09","Q2-09","Q3-09","Q4-09","Q1-10","Q2-10","Q3-10","Q4-10"]},"axis":{"orient":"top","values":["Q1-08","Q1-09","Q1-10"],"labels":false}},
"y":{"field":"v","type":"quantitative","title":null,"scale":{"domain":[0.5,1.5],"zero":false,"nice":false},"axis":{"orient":"right","values":[1],"labels":false}}}}]},
{"title":"Spain","width":414,"height":189,"data":{"name":"d"},"transform":[{"filter":"datum.c==='Spain'"}],"resolve":{"axis":{"x":"independent","y":"independent"}},
"layer":[{"encoding":{"x":{"field":"q","type":"ordinal","title":null,"scale":{"type":"point","padding":0,"domain":["Q1-07","Q2-07","Q3-07","Q4-07","Q1-08","Q2-08","Q3-08","Q4-08","Q1-09","Q2-09","Q3-09","Q4-09","Q1-10","Q2-10","Q3-10","Q4-10"]},"axis":{"values":["Q1-07","Q1-08","Q1-09","Q1-10"],"labelAngle":0}},
"y":{"field":"v","type":"quantitative","title":null,"scale":{"domain":[0.8,1.2],"zero":false,"nice":false},"axis":{"values":[0.8,1,1.2],"format":"~g"}},
"color":{"field":"s","type":"nominal","scale":{"domain":["model","data"],"range":["#ff0000","#0000ff"]},"legend":null}},
"layer":[
{"mark":{"type":"line","strokeWidth":2},"encoding":{"order":{"value":null},"strokeDash":{"field":"s","type":"nominal","scale":{"domain":["model","data"],"range":[[1,0],[11,6]]},"legend":null}}},
{"transform":[{"filter":"datum.s==='model'"}],"mark":{"type":"point","shape":"circle","filled":false,"size":64,"strokeWidth":1.3,"opacity":1}},
{"transform":[{"filter":"datum.s==='data'"}],"mark":{"type":"point","shape":"M-1,0L1,0M0,-1L0,1M-0.7,-0.7L0.7,0.7M-0.7,0.7L0.7,-0.7","filled":false,"size":90,"strokeWidth":2.2,"opacity":1}}]},
{"mark":{"type":"point","opacity":0},"encoding":{"x":{"field":"q","type":"ordinal","title":null,"scale":{"type":"point","padding":0,"domain":["Q1-07","Q2-07","Q3-07","Q4-07","Q1-08","Q2-08","Q3-08","Q4-08","Q1-09","Q2-09","Q3-09","Q4-09","Q1-10","Q2-10","Q3-10","Q4-10"]},"axis":{"orient":"top","values":["Q1-08","Q1-09","Q1-10"],"labels":false}},
"y":{"field":"v","type":"quantitative","title":null,"scale":{"domain":[0.8,1.2],"zero":false,"nice":false},"axis":{"orient":"right","values":[1],"labels":false}}}}]},
{"title":"Sweden","width":414,"height":189,"data":{"name":"d"},"transform":[{"filter":"datum.c==='Sweden'"}],"resolve":{"axis":{"x":"independent","y":"independent"}},
"layer":[{"encoding":{"x":{"field":"q","type":"ordinal","title":null,"scale":{"type":"point","padding":0,"domain":["Q1-07","Q2-07","Q3-07","Q4-07","Q1-08","Q2-08","Q3-08","Q4-08","Q1-09","Q2-09","Q3-09","Q4-09","Q1-10","Q2-10","Q3-10","Q4-10"]},"axis":{"values":["Q1-07","Q1-08","Q1-09","Q1-10"],"labelAngle":0}},
"y":{"field":"v","type":"quantitative","title":null,"scale":{"domain":[0.5,1.5],"zero":false,"nice":false},"axis":{"values":[0.5,1,1.5],"format":"~g"}},
"color":{"field":"s","type":"nominal","scale":{"domain":["model","data"],"range":["#ff0000","#0000ff"]},"legend":null}},
"layer":[
{"mark":{"type":"line","strokeWidth":2},"encoding":{"order":{"value":null},"strokeDash":{"field":"s","type":"nominal","scale":{"domain":["model","data"],"range":[[1,0],[11,6]]},"legend":null}}},
{"transform":[{"filter":"datum.s==='model'"}],"mark":{"type":"point","shape":"circle","filled":false,"size":64,"strokeWidth":1.3,"opacity":1}},
{"transform":[{"filter":"datum.s==='data'"}],"mark":{"type":"point","shape":"M-1,0L1,0M0,-1L0,1M-0.7,-0.7L0.7,0.7M-0.7,0.7L0.7,-0.7","filled":false,"size":90,"strokeWidth":2.2,"opacity":1}}]},
{"mark":{"type":"point","opacity":0},"encoding":{"x":{"field":"q","type":"ordinal","title":null,"scale":{"type":"point","padding":0,"domain":["Q1-07","Q2-07","Q3-07","Q4-07","Q1-08","Q2-08","Q3-08","Q4-08","Q1-09","Q2-09","Q3-09","Q4-09","Q1-10","Q2-10","Q3-10","Q4-10"]},"axis":{"orient":"top","values":["Q1-08","Q1-09","Q1-10"],"labels":false}},
"y":{"field":"v","type":"quantitative","title":null,"scale":{"domain":[0.5,1.5],"zero":false,"nice":false},"axis":{"orient":"right","values":[1],"labels":false}}}}]},
{"title":"U.K.","width":414,"height":189,"data":{"name":"d"},"transform":[{"filter":"datum.c==='U.K.'"}],"resolve":{"axis":{"x":"independent","y":"independent"}},
"layer":[{"encoding":{"x":{"field":"q","type":"ordinal","title":null,"scale":{"type":"point","padding":0,"domain":["Q1-07","Q2-07","Q3-07","Q4-07","Q1-08","Q2-08","Q3-08","Q4-08","Q1-09","Q2-09","Q3-09","Q4-09","Q1-10","Q2-10","Q3-10","Q4-10"]},"axis":{"values":["Q1-07","Q1-08","Q1-09","Q1-10"],"labelAngle":0}},
"y":{"field":"v","type":"quantitative","title":null,"scale":{"domain":[0.8,1],"zero":false,"nice":false},"axis":{"values":[0.8,0.9,1],"format":"~g"}},
"color":{"field":"s","type":"nominal","scale":{"domain":["model","data"],"range":["#ff0000","#0000ff"]},"legend":null}},
"layer":[
{"mark":{"type":"line","strokeWidth":2},"encoding":{"order":{"value":null},"strokeDash":{"field":"s","type":"nominal","scale":{"domain":["model","data"],"range":[[1,0],[11,6]]},"legend":null}}},
{"transform":[{"filter":"datum.s==='model'"}],"mark":{"type":"point","shape":"circle","filled":false,"size":64,"strokeWidth":1.3,"opacity":1}},
{"transform":[{"filter":"datum.s==='data'"}],"mark":{"type":"point","shape":"M-1,0L1,0M0,-1L0,1M-0.7,-0.7L0.7,0.7M-0.7,0.7L0.7,-0.7","filled":false,"size":90,"strokeWidth":2.2,"opacity":1}}]},
{"mark":{"type":"point","opacity":0},"encoding":{"x":{"field":"q","type":"ordinal","title":null,"scale":{"type":"point","padding":0,"domain":["Q1-07","Q2-07","Q3-07","Q4-07","Q1-08","Q2-08","Q3-08","Q4-08","Q1-09","Q2-09","Q3-09","Q4-09","Q1-10","Q2-10","Q3-10","Q4-10"]},"axis":{"orient":"top","values":["Q1-08","Q1-09","Q1-10"],"labels":false}},
"y":{"field":"v","type":"quantitative","title":null,"scale":{"domain":[0.8,1],"zero":false,"nice":false},"axis":{"orient":"right","values":[0.9],"labels":false}}}}]},
{"title":"U.S.A.","width":414,"height":189,"data":{"name":"d"},"transform":[{"filter":"datum.c==='U.S.A.'"}],"resolve":{"axis":{"x":"independent","y":"independent"}},
"layer":[{"encoding":{"x":{"field":"q","type":"ordinal","title":null,"scale":{"type":"point","padding":0,"domain":["Q1-07","Q2-07","Q3-07","Q4-07","Q1-08","Q2-08","Q3-08","Q4-08","Q1-09","Q2-09","Q3-09","Q4-09","Q1-10","Q2-10","Q3-10","Q4-10"]},"axis":{"values":["Q1-07","Q1-08","Q1-09","Q1-10"],"labelAngle":0}},
"y":{"field":"v","type":"quantitative","title":null,"scale":{"domain":[0.9,1.1],"zero":false,"nice":false},"axis":{"values":[0.9,1,1.1],"format":"~g"}},
"color":{"field":"s","type":"nominal","scale":{"domain":["model","data"],"range":["#ff0000","#0000ff"]},
"legend":{"orient":"none","legendX":237,"legendY":7,"title":null,"values":["model","data"],"labelFont":"Liberation Sans","labelFontSize":25,"labelColor":"#000000","strokeColor":"#000000","fillColor":"#ffffff","padding":8,"symbolSize":81,"labelOffset":41,"rowPadding":8,"symbolStrokeWidth":1.7,
"encode":{"symbols":{"update":{"shape":{"signal":"datum.value==='model' ? 'M-1,0L4,0M6,0L11,0M4,0A1,1,0,1,0,6,0A1,1,0,1,0,4,0' : 'M-1,0L2,0M3,0L7,0M8,0L11,0M4,0L6,0M5,-1L5,1M4.3,-0.7L5.7,0.7M4.3,0.7L5.7,-0.7'"},"size":{"value":81},"fill":{"value":"transparent"},"strokeWidth":{"value":1.8},"opacity":{"value":1}}}}}}},
"layer":[
{"mark":{"type":"line","strokeWidth":2},"encoding":{"order":{"value":null},"strokeDash":{"field":"s","type":"nominal","scale":{"domain":["model","data"],"range":[[1,0],[11,6]]},"legend":null}}},
{"transform":[{"filter":"datum.s==='model'"}],"mark":{"type":"point","shape":"circle","filled":false,"size":64,"strokeWidth":1.3,"opacity":1}},
{"transform":[{"filter":"datum.s==='data'"}],"mark":{"type":"point","shape":"M-1,0L1,0M0,-1L0,1M-0.7,-0.7L0.7,0.7M-0.7,0.7L0.7,-0.7","filled":false,"size":90,"strokeWidth":2.2,"opacity":1}}]},
{"mark":{"type":"point","opacity":0},"encoding":{"x":{"field":"q","type":"ordinal","title":null,"scale":{"type":"point","padding":0,"domain":["Q1-07","Q2-07","Q3-07","Q4-07","Q1-08","Q2-08","Q3-08","Q4-08","Q1-09","Q2-09","Q3-09","Q4-09","Q1-10","Q2-10","Q3-10","Q4-10"]},"axis":{"orient":"top","values":["Q1-08","Q1-09","Q1-10"],"labels":false}},
"y":{"field":"v","type":"quantitative","title":null,"scale":{"domain":[0.9,1.1],"zero":false,"nice":false},"axis":{"orient":"right","values":[1],"labels":false}}}}]}
],
"config":{
"view":{"stroke":"#000000","strokeWidth":1},
"font":"Liberation Sans",
"axis":{"labelFont":"Liberation Sans","labelFontSize":25,"labelColor":"#000000","domain":false,"grid":false,"ticks":true,"tickColor":"#000000","tickSize":-5,"tickWidth":1,"labelOverlap":false,"labelFlush":false},
"axisX":{"labelPadding":15},
"axisY":{"labelPadding":11},
"title":{"font":"Liberation Sans","fontSize":24,"fontWeight":"normal","color":"#000000","offset":5}
}
}
